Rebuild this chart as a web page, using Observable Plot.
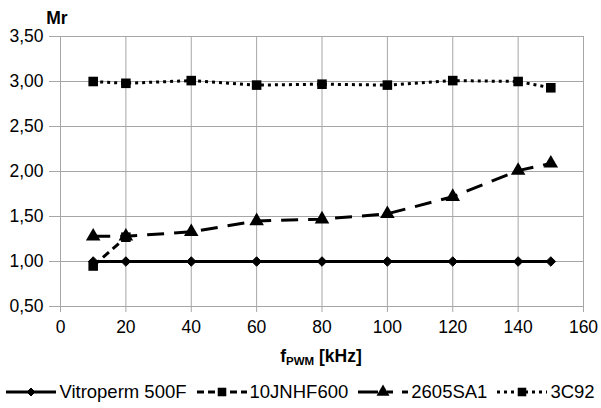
<!DOCTYPE html>
<html>
<head>
<meta charset="utf-8">
<script src="https://cdn.jsdelivr.net/npm/d3@7"></script>
<script src="https://cdn.jsdelivr.net/npm/@observablehq/plot@0.6"></script>
<style>
  html, body { margin: 0; padding: 0; background: #fff; }
  body { width: 601px; height: 408px; overflow: hidden; font-family: "Liberation Sans", Arial, sans-serif; }
  #legend { height: 33px; display: flex; justify-content: center; align-items: center; font-size: 18.5px; color: #000; }
  .item { display: flex; align-items: center; margin: 0 5px; }
  .item svg { margin-right: 3px; }
</style>
</head>
<body>
<div id="chart"></div>
<div id="legend"></div>
<script>
// ---- data ----
const seriesNames = ["Vitroperm 500F", "10JNHF600", "2605SA1", "3C92"];
const freq = [10, 20, 40, 60, 80, 100, 120, 140, 150];
const vitroperm = [1.00, 1.00, 1.00, 1.00, 1.00, 1.00, 1.00, 1.00, 1.00];
const jnhfFreq = [10, 20];
const jnhf = [0.95, 1.27];
const sa1 = [1.28, 1.28, 1.33, 1.45, 1.47, 1.53, 1.72, 2.01, 2.09];
const c92 = [3.00, 2.98, 3.01, 2.96, 2.97, 2.96, 3.01, 3.00, 2.93];
const xTicks = [0, 20, 40, 60, 80, 100, 120, 140, 160];
const yTicks = [0.5, 1.0, 1.5, 2.0, 2.5, 3.0, 3.5];
const yLabel = "Mr";
const xLabelMain = "f", xLabelSub = "PWM", xLabelUnit = " [kHz]";

const toRows = (xs, ys, s) => xs.map((x, i) => ({x, y: ys[i], s}));
const dVit = toRows(freq, vitroperm, seriesNames[0]);
const dJn = toRows(jnhfFreq, jnhf, seriesNames[1]);
const dSa = toRows(freq, sa1, seriesNames[2]);
const dC = toRows(freq, c92, seriesNames[3]);

const fmt = v => d3.format(".2f")(v).replace(".", ",");
const grid = "#a6a6a6";

const styles = [
  {dash: null, symbol: "diamond2", r: 4.3},
  {dash: "8,5", symbol: "square", r: 5.4},
  {dash: "17,10", symbol: "triangle", r: 5.4},
  {dash: "3,4", symbol: "square", r: 5.4}
];
const datasets = [dVit, dJn, dSa, dC];

const marks = [
  Plot.gridY(yTicks, {stroke: grid, strokeOpacity: 1, strokeWidth: 1}),
  Plot.gridX(xTicks, {stroke: grid, strokeOpacity: 1, strokeWidth: 1}),
  Plot.axisY(yTicks, {tickSize: 11, tickPadding: 6, tickFormat: fmt, stroke: grid, fill: "#000", label: null, fontSize: 17.5}),
  Plot.axisX(xTicks, {tickSize: 6, tickPadding: 8, stroke: grid, fill: "#000", label: null, fontSize: 17.5})
];
datasets.forEach((d, i) => {
  const st = styles[i];
  marks.push(Plot.line(d, {x: "x", y: "y", stroke: "#000", strokeWidth: 3, strokeDasharray: st.dash, strokeLinecap: "butt", strokeLinejoin: "round"}));
  marks.push(Plot.dot(d, {x: "x", y: "y", symbol: () => st.symbol, r: st.r, fill: "#000", stroke: st.symbol === "diamond2" ? "#000" : "none", strokeWidth: 1}));
});

const chart = Plot.plot({
  width: 601,
  height: 375,
  marginLeft: 60,
  marginRight: 18,
  marginTop: 36,
  marginBottom: 69,
  style: {fontFamily: "Liberation Sans, Arial, sans-serif", fontSize: "17px", color: "#000", background: "#fff"},
  x: {domain: [0, 160]},
  y: {domain: [0.5, 3.5]},
  symbol: {type: "identity"},
  marks
});
document.getElementById("chart").appendChild(chart);

// axis titles
const svg = d3.select(chart);
svg.append("text").attr("x", 57).attr("y", 24).attr("font-weight", "bold").attr("font-size", 17.5)
  .attr("fill", "#000").text(yLabel);
const xl = svg.append("text").attr("x", 321).attr("y", 362).attr("text-anchor", "middle")
  .attr("font-weight", "bold").attr("font-size", 17.5).attr("fill", "#000");
xl.append("tspan").text(xLabelMain);
xl.append("tspan").attr("font-size", 11.5).attr("dy", 3).text(xLabelSub);
xl.append("tspan").attr("dy", -3).text(xLabelUnit);

// legend
const leg = d3.select("#legend");
seriesNames.forEach((name, i) => {
  const st = styles[i];
  const it = leg.append("div").attr("class", "item");
  const s = it.append("svg").attr("width", 50).attr("height", 16);
  const ln = s.append("line").attr("x1", 0).attr("x2", 50).attr("y1", 8).attr("y2", 8)
    .attr("stroke", "#000").attr("stroke-width", 3);
  if (st.dash) ln.attr("stroke-dasharray", i === 2 ? "20,9,6,9" : (i === 3 ? "3,4" : "7,4"));
  const sym = {diamond2: d3.symbolDiamond2, square: d3.symbolSquare, triangle: d3.symbolTriangle}[st.symbol];
  s.append("path").attr("transform", "translate(25,8)")
    .attr("d", d3.symbol(sym, Math.PI * st.r * st.r * (i === 0 ? 0.7 : 0.8))())
    .attr("fill", "#000").attr("stroke", i === 0 ? "#000" : "none");
  it.append("span").text(name);
});
</script>
</body>
</html>
